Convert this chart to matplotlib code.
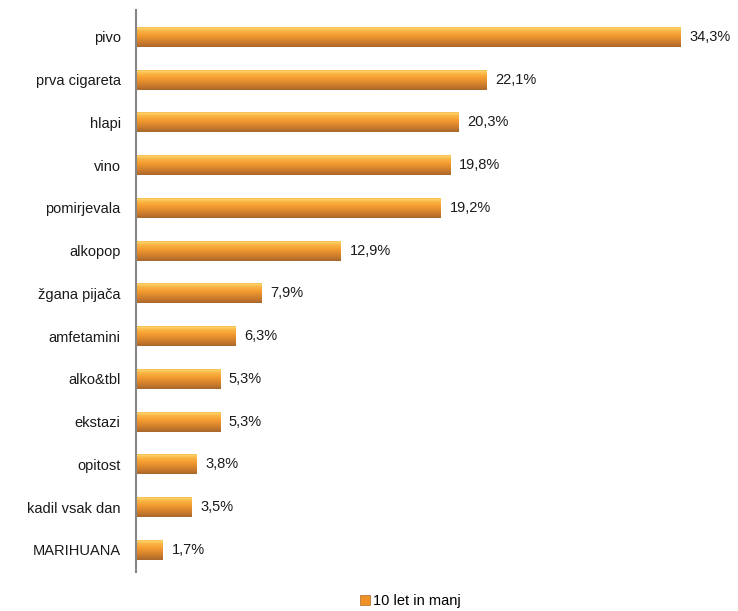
import numpy as np
import matplotlib
matplotlib.use("Agg")
import matplotlib.pyplot as plt
from matplotlib.colors import LinearSegmentedColormap
from matplotlib.patches import Patch

plt.rcParams['font.family'] = ['Liberation Sans', 'DejaVu Sans']

# data (top to bottom)
categories = ['pivo', 'prva cigareta', 'hlapi', 'vino', 'pomirjevala', 'alkopop',
              'žgana pijača', 'amfetamini', 'alko&tbl', 'ekstazi', 'opitost',
              'kadil vsak dan', 'MARIHUANA']
values = [34.3, 22.1, 20.3, 19.8, 19.2, 12.9, 7.9, 6.3, 5.3, 5.3, 3.8, 3.5, 1.7]
series_name = '10 let in manj'

# bottom -> top shading of the bars
bar_cmap = LinearSegmentedColormap.from_list(
    'bar', [(0.0, '#a8672c'), (0.2, '#c97a2c'), (0.55, '#f39a30'),
            (0.8, '#fbb848'), (0.9, '#fdd56a'), (1.0, '#f2a23a')])
grad = np.linspace(0, 1, 64).reshape(-1, 1)

fig = plt.figure(figsize=(7.38, 6.11), dpi=100)
ax = fig.add_axes([136 / 738, 1 - 572 / 611, 0.8, (572 - 10) / 611])

n = len(categories)
ypos = np.arange(n)[::-1]
h = 0.47
bars = ax.barh(ypos, values, height=h, color='none', edgecolor='none')
for bar, v, y in zip(bars, values, ypos):
    im = ax.imshow(grad, cmap=bar_cmap, origin='lower', aspect='auto',
                   extent=[0, v, y - h / 2, y + h / 2], zorder=2)
    im.set_clip_path(bar)
    ax.text(v + 0.55, y, f'{v:.1f}'.replace('.', ',') + '%',
            va='center', ha='left', fontsize=10.5, color='#1a1a1a')

ax.set_xlim(0, 37.2)
ax.set_ylim(-0.52, 12.63)
ax.set_yticks(ypos)
ax.set_yticklabels(categories, fontsize=10.5, color='#1a1a1a')
ax.tick_params(axis='y', length=0, pad=11)
ax.set_xticks([])
for side in ['top', 'right', 'bottom']:
    ax.spines[side].set_visible(False)
ax.spines['left'].set_color('#878787')
ax.spines['left'].set_linewidth(1.5)

fig.legend(handles=[Patch(facecolor='#ee9228', edgecolor='#b0692a', linewidth=0.5)],
           labels=[series_name], loc='center', bbox_to_anchor=(410 / 738, 1 - 601 / 611),
           frameon=False, fontsize=10.5, handlelength=0.7, handleheight=0.7,
           handletextpad=0.2)

fig.savefig('out.png', dpi=100)
